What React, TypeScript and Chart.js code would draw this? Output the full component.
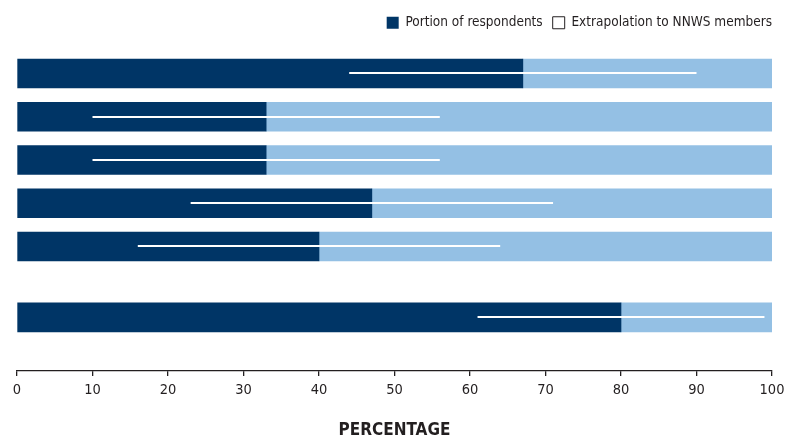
import React, { useEffect, useRef } from "react";
import { Chart, registerables } from "chart.js";

Chart.register(...registerables);

// Row positions on the (hidden) vertical axis: five rows, then a gap, then a sixth row
const rowPositions = [0, 1, 2, 3, 4, 5.64];
// Share of respondents (dark bar)
const portion = [67, 33, 33, 47, 40, 80];
// Remainder up to 100 % (light bar)
const remainder = [33, 67, 67, 53, 60, 20];
// Extrapolation to NNWS members: interval shown as a white line
const ciLow = [44, 10, 10, 23, 16, 61];
const ciHigh = [90, 56, 56, 71, 64, 99];

const xMin = 0;
const xMax = 100;
const xStep = 10;

const legendLabels = ["Portion of respondents", "Extrapolation to NNWS members"];
const axisTitle = "PERCENTAGE";

const DARK = "#003566";
const LIGHT = "#94c0e4";
const TEXT = "#231f20";
const FONT = "'DejaVu Sans Condensed', 'DejaVu Sans', sans-serif";

const errorLinePlugin = {
  id: "errorLines",
  afterDatasetsDraw(chart: any) {
    const { ctx, scales } = chart;
    const xs = scales.x;
    const ys = scales.y;
    ctx.save();
    ctx.strokeStyle = "#ffffff";
    ctx.lineWidth = 2;
    for (let i = 0; i < rowPositions.length; i++) {
      const y = Math.round(ys.getPixelForValue(rowPositions[i]));
      const x1 = xs.getPixelForValue(ciLow[i]);
      const x2 = xs.getPixelForValue(ciHigh[i]);
      ctx.beginPath();
      ctx.moveTo(x1, y);
      ctx.lineTo(x2, y);
      ctx.stroke();
    }
    ctx.restore();
  },
};

export default function App() {
  const canvasRef = useRef<HTMLCanvasElement | null>(null);

  useEffect(() => {
    if (!canvasRef.current) return;
    const chart = new Chart(canvasRef.current, {
      type: "bar",
      data: {
        datasets: [
          {
            label: legendLabels[0],
            data: portion.map((v, i) => ({ x: v, y: rowPositions[i] })),
            backgroundColor: DARK,
            borderWidth: 0,
            barThickness: 29,
            stack: "s",
          },
          {
            label: "remainder",
            data: remainder.map((v, i) => ({ x: v, y: rowPositions[i] })),
            backgroundColor: LIGHT,
            borderWidth: 0,
            barThickness: 29,
            stack: "s",
          },
        ],
      },
      options: {
        indexAxis: "y",
        animation: false,
        responsive: true,
        maintainAspectRatio: false,
        layout: { padding: { left: 17, right: 3, top: 6, bottom: 0 } },
        scales: {
          x: {
            type: "linear",
            stacked: true,
            min: xMin,
            max: xMax,
            position: "bottom",
            afterFit: (scale: any) => {
              scale.paddingLeft = 0;
              scale.paddingRight = 13;
            },
            ticks: {
              stepSize: xStep,
              color: TEXT,
              font: { family: FONT, size: 14.5 },
              padding: 6,
            },
            grid: {
              drawOnChartArea: false,
              drawTicks: true,
              tickLength: 5,
              color: TEXT,
              lineWidth: 1.3,
            },
            border: { display: true, color: TEXT, width: 1.3 },
            title: {
              display: true,
              text: axisTitle,
              color: TEXT,
              font: { family: FONT, size: 17, weight: "bold", lineHeight: 1 },
              padding: { top: 16.6, bottom: 0 },
            },
          },
          y: {
            type: "linear",
            stacked: true,
            reverse: true,
            offset: false,
            min: -0.786,
            max: 6.879,
            display: false,
          },
        },
        plugins: {
          legend: {
            display: true,
            position: "top",
            align: "end",
            labels: {
              boxWidth: 12,
              boxHeight: 12,
              color: TEXT,
              font: { family: FONT, size: 13.5 },
              padding: 10,
              generateLabels: () => [
                {
                  text: legendLabels[0],
                  fillStyle: DARK,
                  strokeStyle: DARK,
                  lineWidth: 0,
                  hidden: false,
                  datasetIndex: 0,
                  fontColor: TEXT,
                },
                {
                  text: legendLabels[1],
                  fillStyle: "#ffffff",
                  strokeStyle: "#231f20",
                  lineWidth: 1,
                  hidden: false,
                  datasetIndex: 1,
                  fontColor: TEXT,
                },
              ],
            },
            onClick: () => {},
          },
          tooltip: { enabled: false },
        },
      },
      plugins: [errorLinePlugin],
    });
    return () => chart.destroy();
  }, []);

  return (
    <div style={{ position: "absolute", left: 0, top: 0, width: 785, height: 439, background: "#fff" }}>
      <canvas ref={canvasRef} />
    </div>
  );
}
